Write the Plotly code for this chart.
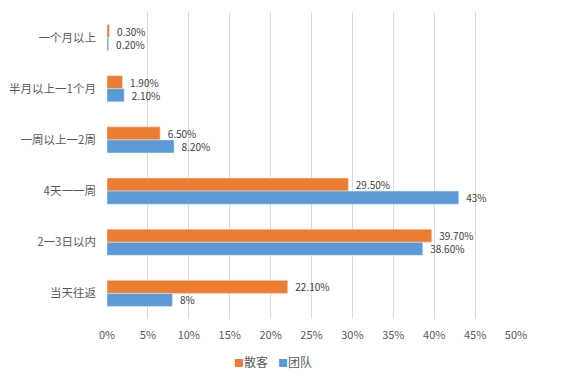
import plotly.graph_objects as go

categories = ["一个月以上", "半月以上一1个月", "一周以上一2周", "4天一一周", "2一3日以内", "当天往返"]
sanke = [0.30, 1.90, 6.50, 29.50, 39.70, 22.10]
tuandui = [0.20, 2.10, 8.20, 43.0, 38.60, 8.0]
sanke_labels = ["0.30%", "1.90%", "6.50%", "29.50%", "39.70%", "22.10%"]
tuandui_labels = ["0.20%", "2.10%", "8.20%", "43%", "38.60%", "8%"]
x_ticks = [0, 5, 10, 15, 20, 25, 30, 35, 40, 45, 50]
x_ticklabels = [f"{v}%" for v in x_ticks]
series_names = ["散客", "团队"]
series_colors = ["#ED7D31", "#5B9BD5"]
legend_x = [0.305, 0.412]

FONT = "Noto Sans CJK SC, Noto Sans, sans-serif"
fig = go.Figure()
for name, vals, labels, color in zip(series_names, [sanke, tuandui],
                                     [sanke_labels, tuandui_labels], series_colors):
    fig.add_trace(go.Bar(
        y=categories, x=vals, orientation="h", name=name,
        marker_color=color, text=labels, texttemplate="  %{text}",
        textposition="outside",
        textfont=dict(size=10, color="#404040"), cliponaxis=False,
        constraintext="none", showlegend=False,
    ))

for n, c, lx in zip(series_names, series_colors, legend_x):
    fig.add_annotation(
        text=f"<span style='color:{c};font-size:10px'>■</span>{n}",
        xref="paper", yref="paper", x=lx, y=-0.14,
        xanchor="left", yanchor="middle", showarrow=False,
        font=dict(size=12, color="#595959", family=FONT),
    )

# page body has an 8px margin, so the figure is sized/offset to compensate
fig.update_layout(
    width=567, height=374,
    barmode="group", bargap=0.49, bargroupgap=0,
    plot_bgcolor="white", paper_bgcolor="white",
    margin=dict(l=99, r=59, t=4, b=63, autoexpand=False),
    font=dict(family=FONT, size=12, color="#595959"),
    showlegend=False,
)
fig.update_xaxes(
    range=[0, 50], tickvals=x_ticks, ticktext=x_ticklabels,
    showgrid=True, gridcolor="#D9D9D9", gridwidth=1, zeroline=False,
    showline=False, tickfont=dict(size=11, color="#595959"),
    ticks="outside", ticklen=6, tickcolor="rgba(0,0,0,0)", ticklabelstandoff=0,
    automargin=False,
)
fig.update_yaxes(
    autorange="reversed", showgrid=False, showline=False,
    tickfont=dict(size=11.5, color="#595959"), ticklabelstandoff=10,
    automargin=False,
)
fig.write_html("out.html")
